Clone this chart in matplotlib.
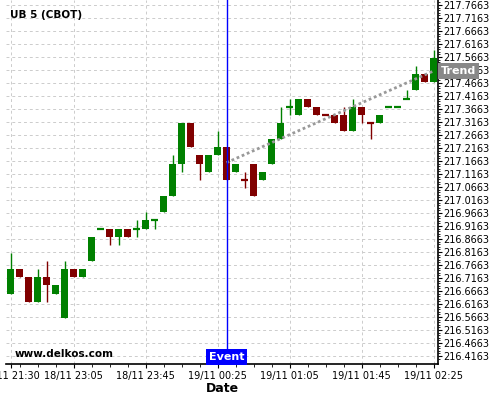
import matplotlib
matplotlib.use('Agg')
from matplotlib import pyplot as plt
from matplotlib.ticker import FormatStrFormatter, FixedLocator
import matplotlib.transforms as mtransforms
import numpy as np

# 5 minute candles, UB (CBOT)
opens = [216.65625, 216.75, 216.71875, 216.625, 216.71875, 216.65625, 216.5625, 216.75,
         216.71875, 216.78125, 216.90625, 216.90625, 216.875, 216.90625, 216.90625, 216.90625,
         216.9375, 216.96875, 217.03125, 217.15625, 217.3125, 217.1875, 217.125, 217.1875,
         217.21875, 217.125, 217.09375, 217.15625, 217.09375, 217.15625, 217.25, 217.375,
         217.34375, 217.40625, 217.375, 217.34375, 217.34375, 217.34375, 217.28125, 217.375,
         217.3125, 217.3125, 217.375, 217.375, 217.40625, 217.4375, 217.5, 217.46875]
highs = [216.8125, 216.75, 216.71875, 216.75, 216.78125, 216.6875, 216.78125, 216.75,
         216.75, 216.875, 216.90625, 216.90625, 216.90625, 216.90625, 216.9375, 216.96875,
         216.9375, 217.03125, 217.1875, 217.3125, 217.3125, 217.1875, 217.1875, 217.28125,
         217.21875, 217.15625, 217.125, 217.15625, 217.125, 217.25, 217.375, 217.40625,
         217.40625, 217.40625, 217.375, 217.34375, 217.34375, 217.375, 217.40625, 217.375,
         217.3125, 217.34375, 217.375, 217.375, 217.4375, 217.53125, 217.5, 217.59375]
lows = [216.65625, 216.71875, 216.625, 216.625, 216.625, 216.65625, 216.5625, 216.71875,
        216.71875, 216.78125, 216.90625, 216.84375, 216.84375, 216.875, 216.875, 216.90625,
        216.90625, 216.96875, 217.03125, 217.125, 217.21875, 217.09375, 217.125, 217.1875,
        217.09375, 217.125, 217.0625, 217.03125, 217.09375, 217.15625, 217.25, 217.34375,
        217.34375, 217.375, 217.34375, 217.34375, 217.3125, 217.28125, 217.28125, 217.3125,
        217.25, 217.3125, 217.375, 217.375, 217.40625, 217.4375, 217.46875, 217.46875]
closes = [216.75, 216.71875, 216.625, 216.71875, 216.6875, 216.6875, 216.75, 216.71875,
          216.75, 216.875, 216.90625, 216.875, 216.90625, 216.875, 216.90625, 216.9375,
          216.9375, 217.03125, 217.15625, 217.3125, 217.21875, 217.15625, 217.1875, 217.21875,
          217.09375, 217.15625, 217.09375, 217.03125, 217.125, 217.25, 217.3125, 217.375,
          217.40625, 217.375, 217.34375, 217.34375, 217.3125, 217.28125, 217.375, 217.34375,
          217.3125, 217.34375, 217.375, 217.375, 217.40625, 217.5, 217.46875, 217.5625]
# doji colour (True = green)
doji_up = {10: True, 14: True, 16: True, 26: False, 31: True, 35: False, 40: False,
           42: True, 43: True, 44: True}

xtick_pos = [0, 7, 15, 23, 31, 39, 47]
xtick_labels = ['18/11 21:30', '18/11 23:05', '18/11 23:45', '19/11 00:25',
                '19/11 01:05', '19/11 01:45', '19/11 02:25']

event_idx = 24
trend_x = [24, 47]
trend_y = [217.1600, 217.5124]

GREEN = '#008000'
RED = '#800000'

fig = plt.figure(figsize=(5, 4), dpi=100)
ax = fig.add_axes([0.012, 0.09, 0.864, 0.91])

ax.set_xlim(-0.5, 47.5)
ax.set_ylim(216.3855, 217.7855)

ax.grid(True, color='#cccccc', linestyle=(0, (3, 3)), linewidth=0.7)
ax.set_axisbelow(True)

w = 0.78
for i in range(len(opens)):
    o, h, l, c = opens[i], highs[i], lows[i], closes[i]
    if o == c:
        col = GREEN if doji_up.get(i, True) else RED
        ax.vlines(i, l, h, color=col, linewidth=1.0, zorder=3)
        ax.hlines(c, i - w / 2, i + w / 2, color=col, linewidth=1.6, zorder=3)
    else:
        col = GREEN if c > o else RED
        ax.vlines(i, l, h, color=col, linewidth=1.0, zorder=3)
        ax.bar(i, abs(c - o), bottom=min(o, c), width=w, color=col, zorder=4)

# trend
ax.plot(trend_x, trend_y, color='#999999', linestyle=(0, (1, 1)), linewidth=2, zorder=5)

# event line
ax.axvline(event_idx, color='#0000ff', linewidth=1, zorder=6)
trans = mtransforms.blended_transform_factory(ax.transData, ax.transAxes)
ax.text(event_idx, 0.006, 'Event', transform=trans, ha='center', va='bottom',
        color='white', fontsize=8, fontweight='bold', zorder=7,
        bbox=dict(boxstyle='square,pad=0.25', facecolor='#0000ff', edgecolor='none'))

trans2 = mtransforms.blended_transform_factory(ax.transAxes, ax.transData)
ax.text(1.007, trend_y[-1], 'Trend', transform=trans2, ha='left', va='center',
        color='white', fontsize=8, fontweight='bold', zorder=8, clip_on=False,
        bbox=dict(boxstyle='square,pad=0.25', facecolor='#888888', edgecolor='none'))

ax.text(0.009, 0.959, 'UB 5 (CBOT)', transform=ax.transAxes, fontsize=7.5,
        fontweight='bold', va='center', ha='left')
ax.text(0.021, 0.027, 'www.delkos.com', transform=ax.transAxes, fontsize=7.5,
        fontweight='bold', va='center', ha='left')

# axes styling
for s in ['left', 'top']:
    ax.spines[s].set_visible(False)
ax.spines['bottom'].set_linewidth(1.2)
ax.spines['right'].set_linewidth(1.2)

ax.yaxis.tick_right()
ax.yaxis.set_major_locator(FixedLocator(np.round(216.4163 + 0.05 * np.arange(28), 4)))
ax.yaxis.set_major_formatter(FormatStrFormatter('%.4f'))
ax.yaxis.set_minor_locator(FixedLocator(np.round(216.4063 + 0.01 * np.arange(139), 4)))
ax.tick_params(axis='y', which='major', labelsize=7, length=3, pad=1)
ax.tick_params(axis='y', which='minor', length=1.5)

ax.set_xticks(xtick_pos)
ax.set_xticklabels(xtick_labels)
ax.xaxis.set_minor_locator(FixedLocator(list(range(1, 48, 2))))
ax.tick_params(axis='x', which='major', labelsize=7, length=3, pad=2)
ax.tick_params(axis='x', which='minor', length=2)
ax.set_xlabel('Date', fontsize=9, fontweight='bold', labelpad=1)

fig.savefig('out.png', dpi=100)
